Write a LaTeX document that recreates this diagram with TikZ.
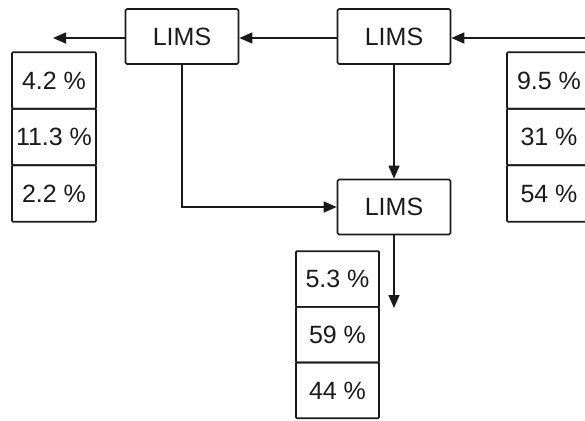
\documentclass[tikz,border=0pt]{standalone}
\usepackage{fontspec}
\setmainfont{Liberation Sans}
\usetikzlibrary{arrows.meta}
\definecolor{ink}{HTML}{1A1A1A}
\begin{document}
\begin{tikzpicture}[x=1pt,y=-1pt,
  font=\fontsize{25}{29}\selectfont,
  every node/.style={text=ink},
  proc/.style={draw=ink,line width=1.7pt,rounded corners=1.5pt,
    minimum width=113pt,minimum height=55pt,inner sep=0pt},
  cell/.style={draw=ink,line width=1.7pt,rounded corners=1pt,
    minimum width=84pt,minimum height=56.5pt,inner sep=0pt},
  flow/.style={draw=ink,line width=1.7pt,-{Triangle[length=13pt,width=11pt]}}]
\useasboundingbox (0,0) rectangle (585,420);
% processing stages
\node[proc] (a) at (182,36.5) {LIMS};
\node[proc] (b) at (394,36.5) {LIMS};
\node[proc] (c) at (394,207) {LIMS};
% value tables
\node[cell] (l1) at (54,80.5) {4.2 \%};
\node[cell] (l2) at (54,137) {11.3 \%};
\node[cell] (l3) at (54,193.5) {2.2 \%};
\node[cell] (r1) at (549,80.5) {9.5 \%};
\node[cell] (r2) at (549,137) {31 \%};
\node[cell] (r3) at (549,193.5) {54 \%};
\node[cell,minimum width=83pt,minimum height=55.7pt] (m1) at (337.5,279) {5.3 \%};
\node[cell,minimum width=83pt,minimum height=55.7pt] (m2) at (337.5,334.7) {59 \%};
\node[cell,minimum width=83pt,minimum height=55.7pt] (m3) at (337.5,390.4) {44 \%};
% free ends of the connectors
\coordinate (in) at (600,38);
\coordinate (outl) at (53,38);
\coordinate (outc) at (394,308);
% connectors
\draw[flow] (in) -- (b.east |- in);
\draw[flow] (b.west |- in) -- (a.east |- in);
\draw[flow] (a.west |- outl) -- (outl);
\draw[flow] (b) -- (c);
\draw[flow] (a.south) |- (c.west);
\draw[flow] (c.south) -- (outc);
\end{tikzpicture}
\end{document}
